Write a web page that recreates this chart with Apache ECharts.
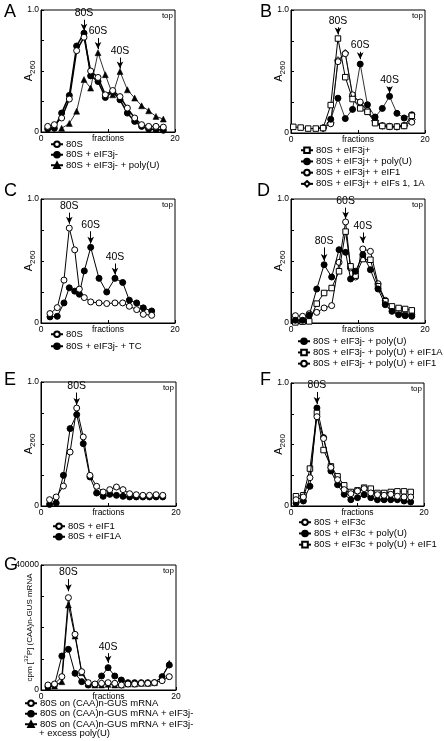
<!DOCTYPE html>
<html><head><meta charset="utf-8">
<script src="https://cdn.jsdelivr.net/npm/echarts@6/dist/echarts.min.js"></script>
<style>html,body{margin:0;padding:0;background:#fff}#c{width:444px;height:741px}</style>
</head><body><div id="c"></div>
<script>
// ---------------- DATA ----------------
// Panel A
const A_x      = [1.0,1.99,3.08,4.23,5.32,6.42,7.41,8.51,9.6,10.7,11.79,12.89,13.98,15.02,16.07,17.16,18.26];
const A_80S    = [0.046,0.06,0.115,0.27,0.667,0.777,0.50,0.447,0.305,0.34,0.29,0.196,0.115,0.06,0.046,0.046,0.04];
const A_3jm    = [0.025,0.03,0.155,0.30,0.705,0.81,0.46,0.414,0.283,0.33,0.264,0.155,0.087,0.046,0.025,0.02,0.014];
const A_polyU  = [null,null,0.03,0.07,0.17,0.43,0.36,0.65,0.47,0.305,0.496,0.346,0.278,0.215,0.174,0.128,0.106];
// Panel B
const B_x      = [0.34,1.44,2.56,3.7,4.79,5.93,7.01,8.1,9.19,10.33,11.41,12.55,13.63,14.71,15.81,16.89,18.03];
const B_3jp    = [0.05,0.044,0.036,0.036,0.04,0.227,0.768,0.454,0.276,0.2,0.172,0.08,0.057,0.052,0.052,0.057,0.14];
const B_polyU  = [null,null,null,null,0.04,0.112,0.283,0.117,0.192,0.56,0.23,0.13,0.2,0.298,0.16,0.122,0.148];
const B_eIF1   = [null,null,null,null,0.04,0.075,0.58,0.645,0.31,0.252,0.182,0.099,0.06,0.055,0.052,0.062,0.088];
const B_eIFs   = [null,null,null,null,0.042,0.082,0.592,0.65,0.3,0.245,0.178,0.1,0.058,0.052,0.05,0.06,0.11];
// Panel C
const C_x      = [1.34,2.43,3.43,4.22,5.03,5.72,6.46,7.42,8.66,9.81,11.04,12.19,13.18,14.28,15.27,16.52];
const C_80S    = [0.076,0.124,0.346,0.765,0.59,0.273,0.205,0.17,0.162,0.157,0.162,0.162,0.135,0.108,0.07,0.062];
const C_TC     = [0.049,0.054,0.162,0.284,0.257,0.232,0.42,0.61,0.36,0.25,0.36,0.327,0.184,0.162,0.122,0.097];
// Panel D
const D_x      = [0.65,1.73,2.72,3.84,4.94,6.07,7.17,8.15,8.89,9.63,10.72,11.85,12.99,14.07,15.07,16.06,17.04,18.03];
const D_polyU  = [0.022,0.022,0.062,0.274,0.47,0.371,0.591,0.57,0.355,0.417,0.551,0.43,0.274,0.148,0.094,0.067,0.059,0.054];
const D_eIF1A  = [0.005,0.011,0.013,0.156,0.242,0.282,0.417,0.737,0.457,0.382,0.516,0.51,0.296,0.175,0.134,0.121,0.113,0.102];
const D_eIF1   = [0.059,0.054,0.075,0.086,0.121,0.14,0.489,0.815,0.444,0.371,0.597,0.578,0.317,0.183,0.121,0.086,0.067,0.067];
// Panel E
const E_x      = [1.27,2.25,3.32,4.31,5.29,6.26,7.25,8.24,9.21,10.19,11.18,12.15,13.13,14.12,15.09,16.07,17.06,18.04];
const E_eIF1   = [0.051,0.073,0.161,0.435,0.79,0.557,0.247,0.159,0.113,0.132,0.153,0.132,0.099,0.091,0.086,0.086,0.091,0.086];
const E_eIF1A  = [0.013,0.024,0.247,0.624,0.737,0.503,0.234,0.105,0.078,0.094,0.086,0.078,0.073,0.073,0.073,0.073,0.073,0.073];
// Panel F
const F_x      = [0.75,1.86,2.85,3.9,4.9,6.0,7.0,8.0,9.0,10.0,11.0,12.0,13.0,14.0,15.0,16.0,17.0,18.0];
const F_3c     = [0.051,0.073,0.230,0.726,0.549,0.314,0.214,0.133,0.100,0.122,0.141,0.106,0.092,0.087,0.095,0.079,0.073,0.073];
const F_polyU  = [0.024,0.041,0.160,0.797,0.556,0.285,0.173,0.095,0.051,0.068,0.092,0.068,0.051,0.051,0.051,0.051,0.041,0.033];
const F_eIF1   = [0.079,0.087,0.304,0.756,0.455,0.322,0.241,0.168,0.114,0.127,0.149,0.141,0.106,0.106,0.114,0.119,0.119,0.114];
// Panel G
const G_x      = [1.03,2.0,3.09,4.06,5.04,6.03,7.0,7.99,8.97,9.94,10.93,11.91,12.88,13.87,14.85,15.82,16.81,17.94,19.0];
const G_mRNA   = [1600,1920,4267,29547,17813,5867,2347,1920,2133,2347,2133,1600,1920,1920,2133,2133,2347,2987,4267];
const G_3jm    = [1067,1600,10880,13013,5333,2667,1600,1813,4480,7147,4480,3200,2347,2347,2347,2347,2347,4267,8000];
const G_polyU  = [853,1280,2667,27200,17280,5547,1920,1600,1600,1813,1600,1600,1920,1920,2133,2133,2347,4267,8533];

// Tick labels / texts
const yTickLabelsA = {0:'0', 1:'1.0'};
const yTickLabelsG = {0:'0', 40000:'40000'};
const xTickLabels  = {0:'0', 10:'fractions', 20:'20'};

// Arrow annotations [label, x, yStart, yEnd]
const A_arrows = [['80S',6.42,0.92,0.83],['60S',8.51,0.77,0.68],['40S',11.79,0.61,0.52]];
const B_arrows = [['80S',7.01,0.86,0.80],['60S',10.33,0.66,0.60],['40S',14.71,0.375,0.325]];
const C_arrows = [['80S',4.22,0.89,0.80],['60S',7.42,0.74,0.64],['40S',11.04,0.48,0.39]];
const D_arrows = [['60S',8.15,0.93,0.84],['80S',4.94,0.61,0.50],['40S',10.72,0.73,0.645]];
const E_arrows = [['80S',5.29,0.915,0.815]];
const F_arrows = [['80S',3.9,0.927,0.83]];
const G_arrows = [['80S',4.06,35500,31600],['40S',9.94,11800,8700]];

// ---------------- STYLE / LAYOUT ----------------
const FF = '"Liberation Sans", Arial, Helvetica, sans-serif';
const ST = {
  open:   {symbol:'circle',   symbolSize:6, itemStyle:{color:'#fff', borderColor:'#000', borderWidth:1}},
  filled: {symbol:'circle',   symbolSize:6, itemStyle:{color:'#000', borderColor:'#000', borderWidth:1}},
  tri:    {symbol:'triangle', symbolSize:6, itemStyle:{color:'#000', borderColor:'#000', borderWidth:0.5}},
  sq:     {symbol:'rect',     symbolSize:5.5, itemStyle:{color:'#fff', borderColor:'#000', borderWidth:1}},
  dia:    {symbol:'diamond',  symbolSize:7, itemStyle:{color:'#fff', borderColor:'#000', borderWidth:1}}
};

const panels = [
  {id:'A', g:{left:41,top:10,width:134,height:122}, letter:[4,3], ymax:1, yint:0.25, yl:yTickLabelsA, arrows:A_arrows,
   lg:{left:50, top:139, gap:0},
   series:[['80S',A_x,A_80S,'open',1.5,3],['80S + eIF3j-',A_x,A_3jm,'filled',1.5,2],['80S + eIF3j- + poly(U)',A_x,A_polyU,'tri',0.8,1]]},
  {id:'B', g:{left:291,top:10,width:134,height:123}, letter:[260,3], ymax:1, yint:0.25, yl:yTickLabelsA, arrows:B_arrows,
   lg:{left:300, top:145, gap:0.7},
   series:[['80S + eIF3j+',B_x,B_3jp,'sq',1,5],['80S + eIF3j+ + poly(U)',B_x,B_polyU,'filled',0.8,4],['80S + eIF3j+ + eIF1',B_x,B_eIF1,'open',0.8,2],['80S + eIF3j+ + eIFs 1, 1A',B_x,B_eIFs,'dia',0.8,1]]},
  {id:'C', g:{left:41,top:199,width:134,height:124}, letter:[4,182], ymax:1, yint:0.25, yl:yTickLabelsA, arrows:C_arrows,
   lg:{left:50, top:329, gap:1.5},
   series:[['80S',C_x,C_80S,'open',1,2],['80S + eIF3j- + TC',C_x,C_TC,'filled',1,1]]},
  {id:'D', g:{left:291,top:199,width:134,height:124}, letter:[257,182], ymax:1, yint:0.25, yl:yTickLabelsA, arrows:D_arrows,
   lg:{left:297, top:336, gap:0.7},
   series:[['80S + eIF3j- + poly(U)',D_x,D_polyU,'filled',1,3],['80S + eIF3j- + poly(U) + eIF1A',D_x,D_eIF1A,'sq',1,2],['80S + eIF3j- + poly(U) + eIF1',D_x,D_eIF1,'open',1,1]]},
  {id:'E', g:{left:41,top:382,width:135,height:124}, letter:[4,371], ymax:1, yint:0.25, yl:yTickLabelsA, arrows:E_arrows,
   lg:{left:52, top:521, gap:0},
   series:[['80S + eIF1',E_x,E_eIF1,'open',1,2],['80S + eIF1A',E_x,E_eIF1A,'filled',1,1]]},
  {id:'F', g:{left:291,top:383,width:133,height:123}, letter:[260,371], ymax:1, yint:0.25, yl:yTickLabelsA, arrows:F_arrows,
   lg:{left:298, top:517, gap:0.7},
   series:[['80S + eIF3c',F_x,F_3c,'open',1,3],['80S + eIF3c + poly(U)',F_x,F_polyU,'filled',1,1],['80S + eIF3c + poly(U) + eIF1',F_x,F_eIF1,'sq',1,2]]},
  {id:'G', g:{left:41,top:565,width:135,height:125}, letter:[4,556], ymax:40000, yint:10000, yl:yTickLabelsG, arrows:G_arrows,
   lg:{left:24, top:698, gap:0},
   series:[['80S on (CAA)n-GUS mRNA',G_x,G_mRNA,'open',1,3],['80S on (CAA)n-GUS mRNA + eIF3j-',G_x,G_3jm,'filled',1,2],['80S on (CAA)n-GUS mRNA + eIF3j-',G_x,G_polyU,'tri',1,1]]}
];

const grid=[], xAxis=[], yAxis=[], series=[], legend=[], graphic=[];
panels.forEach((p,i)=>{
  grid.push(Object.assign({show:true, borderColor:'#000', borderWidth:1, backgroundColor:'transparent', outerBoundsMode:'none', containLabel:false}, p.g));
  xAxis.push({gridIndex:i, type:'value', min:0, max:20, interval:10,
    axisLine:{show:true, onZero:false, lineStyle:{color:'#000', width:1}},
    axisTick:{show:true, inside:true, length:3, lineStyle:{color:'#000'}},
    splitLine:{show:false},
    axisLabel:{fontSize:8.5, color:'#000', fontFamily:FF, margin:2, formatter:v=>xTickLabels[v]||''}});
  const yname = p.id==='G' ? '{t|cpm [}{sup|32}{t|P] (CAA)n-GUS mRNA}' : '{a|A}{s|260}';
  yAxis.push({gridIndex:i, type:'value', min:0, max:p.ymax, interval:p.yint,
    axisLine:{show:true, onZero:false, lineStyle:{color:'#000', width:1}},
    axisTick:{show:true, inside:true, length:3, lineStyle:{color:'#000'}},
    splitLine:{show:false},
    axisLabel:{fontSize:8.5, color:'#000', fontFamily:FF, margin:2, formatter:v=>p.yl[v]||''},
    name:yname, nameLocation:'middle', nameRotate:90, nameGap: p.id==='G'?7:4, nameMoveOverlap:false,
    nameTextStyle:{color:'#000', fontFamily:FF, rich:{
      a:{fontSize:11, fontFamily:FF, color:'#000', lineHeight:11, verticalAlign:'top'},
      s:{fontSize:8, fontFamily:FF, color:'#000', lineHeight:14, verticalAlign:'bottom'},
      t:{fontSize:8, fontFamily:FF, color:'#000', lineHeight:11, verticalAlign:'bottom'},
      sup:{fontSize:6, fontFamily:FF, color:'#000', lineHeight:11, verticalAlign:'top'}}}});
  const names=[];
  p.series.forEach((s,k)=>{
    const [nm,xs,ys,st,lw,z] = s;
    const full = p.id+k+'|'+nm;
    names.push(full);
    const data=[];
    xs.forEach((x,j)=>{ if(ys[j]!==null && ys[j]!==undefined) data.push([x,ys[j]]); });
    const ser = Object.assign({type:'line', name:full, xAxisIndex:i, yAxisIndex:i, data,
      z:2+z, lineStyle:{color:'#000', width:lw}, showSymbol:true, silent:true}, JSON.parse(JSON.stringify(ST[st])));
    if(k===0){
      ser.markLine = {silent:true, symbol:['none','arrow'], symbolSize:[5,7], animation:false,
        lineStyle:{color:'#000', width:1, type:'solid'},
        label:{show:true, position:'start', distance:1, formatter:'{b}', fontSize:10.5, fontFamily:FF, color:'#000'},
        emphasis:{disabled:true},
        data:p.arrows.map(a=>[{coord:[a[1],a[2]], name:a[0]},{coord:[a[1],a[3]]}])};
    }
    series.push(ser);
  });
  legend.push({orient:'vertical', left:p.lg.left, top:p.lg.top, padding:0, itemGap:p.lg.gap, itemWidth:12, itemHeight:7,
    selectedMode:false, data:names, formatter:n=>n.split('|')[1],
    textStyle:{fontSize:9.5, fontFamily:FF, color:'#000', lineHeight:10.5, padding:[0,0,0,-2]}});
  graphic.push({type:'text', left:p.letter[0], top:p.letter[1],
    style:{text:p.id, fontSize:18, fontFamily:FF, fill:'#000'}});
  graphic.push({type:'text', right: 444-(p.g.left+p.g.width)+2, top:p.g.top+2,
    style:{text:'top', fontSize:8, fontFamily:FF, fill:'#000'}});
});
graphic.push({type:'text', left:39, top:728, style:{text:'+ excess poly(U)', fontSize:9.5, fontFamily:FF, fill:'#000'}});

const chart = echarts.init(document.getElementById('c'), null, {renderer:'canvas'});
chart.setOption({animation:false, backgroundColor:'#fff', grid, xAxis, yAxis, series, legend, graphic});
</script></body></html>
